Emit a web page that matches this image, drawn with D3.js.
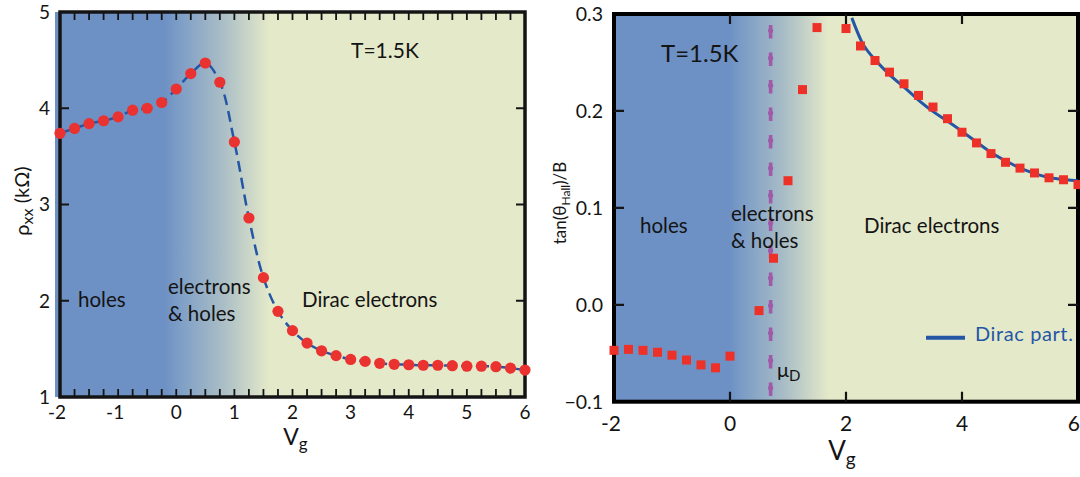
<!DOCTYPE html>
<html>
<head>
<meta charset="utf-8">
<script src="https://cdn.jsdelivr.net/npm/d3@7"></script>
<style>
  html, body { margin: 0; padding: 0; background: #fff; }
  svg { display: block; font-family: Lato, "Open Sans", sans-serif; }
</style>
</head>
<body>
<svg id="chart" width="1080" height="477"></svg>
<script>
// Gate voltage sweep for the longitudinal resistivity (kΩ)
const vgRho = [-2, -1.75, -1.5, -1.25, -1, -0.75, -0.5, -0.25, 0, 0.25, 0.5, 0.75, 1, 1.25, 1.5, 1.75,
  2, 2.25, 2.5, 2.75, 3, 3.25, 3.5, 3.75, 4, 4.25, 4.5, 4.75, 5, 5.25, 5.5, 5.75, 6];
const rhoXX = [3.74, 3.79, 3.84, 3.87, 3.91, 3.98, 4.00, 4.06, 4.20, 4.36, 4.47, 4.27, 3.65, 2.86, 2.24, 1.89,
  1.69, 1.56, 1.48, 1.43, 1.39, 1.37, 1.35, 1.34, 1.335, 1.33, 1.33, 1.325, 1.32, 1.32, 1.315, 1.30, 1.28];

// Hall angle per field
const vgHall = [-2, -1.75, -1.5, -1.25, -1, -0.75, -0.5, -0.25, 0, 0.5, 0.75, 1, 1.25, 1.5,
  2, 2.25, 2.5, 2.75, 3, 3.25, 3.5, 3.75, 4, 4.25, 4.5, 4.75, 5, 5.25, 5.5, 5.75, 6];
const tanHall = [-0.047, -0.046, -0.047, -0.049, -0.052, -0.057, -0.062, -0.065, -0.053, -0.006, 0.048, 0.128, 0.222, 0.286,
  0.285, 0.267, 0.252, 0.240, 0.228, 0.216, 0.204, 0.192, 0.178, 0.167, 0.156, 0.147, 0.141, 0.136, 0.131, 0.129, 0.124];

// Dirac-particle model curve
const vgDirac = [2.10, 2.27, 2.53, 2.76, 3.05, 3.28, 3.51, 3.76, 4.02, 4.25, 4.48, 4.77, 5.0, 5.23, 5.52, 5.80, 6.0];
const tanDirac = [0.296, 0.2715, 0.251, 0.237, 0.222, 0.2096, 0.199, 0.189, 0.178, 0.168, 0.158, 0.148, 0.141, 0.136, 0.131, 0.129, 0.128];

// Charge neutrality point
const muD = 0.70;

// Tick labels
const rhoTicks = [1, 2, 3, 4, 5];
const vgTicksLeft = [-2, -1, 0, 1, 2, 3, 4, 5, 6];
const vgMinorLeft = [-2, -1.75, -1.5, -1.25, -1, -0.75, -0.5, -0.25, 0, 0.25, 0.5, 0.75, 1, 1.25, 1.5, 1.75,
  2, 2.25, 2.5, 2.75, 3, 3.25, 3.5, 3.75, 4, 4.25, 4.5, 4.75, 5, 5.25, 5.5, 5.75, 6];
const hallTicks = [-0.1, 0.0, 0.1, 0.2, 0.3];
const vgTicksRight = [-2, 0, 2, 4, 6];

const BLUE_BG = "#6d91c4", YEL_BG = "#e4e9c9";
const RED = "#ea3230", LINE_BLUE = "#2456a6", PURPLE = "#a05aa8", INK = "#141414";

const svg = d3.select("#chart");
const defs = svg.append("defs");

function bgGradient(id, x0, x1) {
  const g = defs.append("linearGradient").attr("id", id)
    .attr("gradientUnits", "userSpaceOnUse")
    .attr("x1", x0).attr("x2", x1).attr("y1", 0).attr("y2", 0);
  g.append("stop").attr("offset", 0).attr("stop-color", BLUE_BG);
  g.append("stop").attr("offset", 0.12).attr("stop-color", "#7b9cc6");
  g.append("stop").attr("offset", 0.55).attr("stop-color", "#a9bdc6");
  g.append("stop").attr("offset", 1).attr("stop-color", YEL_BG);
}

// inward tick marks placed with a scale, drawn as one path per side
function inwardTicks(g, values, scale, orient, pos, len, width) {
  const horiz = orient === "top" || orient === "bottom";
  const sgn = (orient === "bottom" || orient === "right") ? -1 : 1;
  const d = values.map(v => {
    const p = scale(v);
    return horiz ? `M${p},${pos}V${pos + sgn * len}` : `M${pos},${p}H${pos + sgn * len}`;
  }).join("");
  g.append("path").attr("d", d).attr("fill", "none")
    .attr("stroke", INK).attr("stroke-width", width);
}

/* ---------- Left panel: rho_xx ---------- */
const xL = d3.scaleLinear().domain([-2, 6]).range([60, 525]);
const yL = d3.scaleLinear().domain([1, 5]).range([397, 12]);
bgGradient("gradL", xL(-0.2), xL(1.6));

const left = svg.append("g");
left.append("rect").attr("x", 55).attr("y", yL(5)).attr("width", xL(6) - 55).attr("height", yL(1) - yL(5))
  .attr("fill", "url(#gradL)");

left.append("rect").attr("x", xL(-2)).attr("y", yL(5)).attr("width", xL(6) - xL(-2)).attr("height", yL(1) - yL(5))
  .attr("fill", "none").attr("stroke", INK).attr("stroke-width", 3.5);
// minor ticks along top and bottom, major ticks on the sides
inwardTicks(left, vgMinorLeft, xL, "bottom", yL(1), 8, 1.8);
inwardTicks(left, vgMinorLeft, xL, "top", yL(5), 8, 1.8);
inwardTicks(left, rhoTicks, yL, "left", xL(-2), 9, 2);
inwardTicks(left, rhoTicks, yL, "right", xL(6), 9, 2);

// tick labels
left.selectAll("text.ytl").data(rhoTicks).join("text").attr("class", "ytl")
  .attr("x", xL(-2) - 10).attr("y", d => yL(d)).attr("dy", "0.36em")
  .attr("text-anchor", "end").attr("font-size", 19).attr("fill", INK).text(d => d);
left.selectAll("text.xtl").data(vgTicksLeft).join("text").attr("class", "xtl")
  .attr("x", d => xL(d) - (d < 0 ? 3 : 0)).attr("y", 419)
  .attr("text-anchor", "middle").attr("font-size", 19).attr("fill", INK).text(d => d);

// curve and points
const lineL = d3.line().x((d, i) => xL(vgRho[i])).y(d => yL(d)).curve(d3.curveCatmullRom);
left.append("path").attr("d", lineL(rhoXX)).attr("fill", "none")
  .attr("stroke", LINE_BLUE).attr("stroke-width", 2.5).attr("stroke-dasharray", "11,6");
left.selectAll("circle").data(rhoXX).join("circle")
  .attr("cx", (d, i) => xL(vgRho[i])).attr("cy", d => yL(d)).attr("r", 5.6).attr("fill", RED);

// region labels
const regL = left.append("g").attr("font-size", 20.5).attr("fill", INK);
regL.append("text").attr("x", 78).attr("y", 307).text("holes");
regL.append("text").attr("x", 168).attr("y", 294).text("electrons");
regL.append("text").attr("x", 168).attr("y", 321).text("& holes");
regL.append("text").attr("x", 302).attr("y", 307).text("Dirac electrons");
regL.append("text").attr("x", 351).attr("y", 58).attr("font-size", 21).text("T=1.5K");

// axis titles
const vgL = left.append("text").attr("x", (xL(-2) + xL(6)) / 2 + 3).attr("y", 445)
  .attr("text-anchor", "middle").attr("font-size", 23).attr("fill", INK);
vgL.append("tspan").text("V");
vgL.append("tspan").attr("font-size", 17).attr("dy", 5).text("g");

const rhoLab = left.append("text").attr("transform", "translate(29,201) rotate(-90)")
  .attr("text-anchor", "middle").attr("font-size", 20).attr("fill", INK);
rhoLab.append("tspan").text("ρ");
rhoLab.append("tspan").attr("font-size", 16).attr("dy", 4).text("xx");
rhoLab.append("tspan").attr("dy", -4).text(" (kΩ)");

/* ---------- Right panel: Hall angle ---------- */
const xR = d3.scaleLinear().domain([-2, 6]).range([614, 1078]);
const yR = d3.scaleLinear().domain([-0.1, 0.3]).range([401.7, 14]);
bgGradient("gradR", xR(0), xR(1.7));

const right = svg.append("g");
right.append("rect").attr("x", xR(-2)).attr("y", yR(0.3)).attr("width", xR(6) - xR(-2)).attr("height", yR(-0.1) - yR(0.3))
  .attr("fill", "url(#gradR)");

// mu_D marker: dashes plus dots
const muX = xR(muD);
right.append("line").attr("x1", muX).attr("x2", muX).attr("y1", yR(0.3)).attr("y2", yR(-0.1))
  .attr("stroke", PURPLE).attr("stroke-width", 3.6).attr("stroke-dasharray", "13.5,14").attr("stroke-dashoffset", -11);
right.append("line").attr("x1", muX).attr("x2", muX).attr("y1", yR(0.3)).attr("y2", yR(-0.1))
  .attr("stroke", PURPLE).attr("stroke-width", 5.2).attr("stroke-linecap", "round")
  .attr("stroke-dasharray", "0,27.5").attr("stroke-dashoffset", -16.5);

right.append("rect").attr("x", xR(-2)).attr("y", yR(0.3)).attr("width", xR(6) - xR(-2)).attr("height", yR(-0.1) - yR(0.3))
  .attr("fill", "none").attr("stroke", "#000").attr("stroke-width", 4);

const innerX = [0, 2, 4], innerY = [0.0, 0.1, 0.2];
inwardTicks(right, innerX, xR, "bottom", yR(-0.1), 10, 2.2);
inwardTicks(right, innerX, xR, "top", yR(0.3), 10, 2.2);
inwardTicks(right, innerY, yR, "left", xR(-2), 10, 2.2);
inwardTicks(right, innerY, yR, "right", xR(6), 10, 2.2);

right.selectAll("text.ytl").data(hallTicks).join("text").attr("class", "ytl")
  .attr("x", xR(-2) - 11).attr("y", d => yR(d)).attr("dy", "0.36em")
  .attr("text-anchor", "end").attr("font-size", 19.5).attr("fill", INK).text(d => d3.format(".1f")(d));
right.selectAll("text.xtl").data(vgTicksRight).join("text").attr("class", "xtl")
  .attr("x", d => d === 6 ? 1080 : xR(d) - (d < 0 ? 3 : 0)).attr("y", 431)
  .attr("text-anchor", d => d === 6 ? "end" : "middle").attr("font-size", 21).attr("fill", INK).text(d => d);

// model curve
const lineR = d3.line().x((d, i) => xR(vgDirac[i])).y(d => yR(d)).curve(d3.curveMonotoneX);
right.append("path").attr("d", lineR(tanDirac)).attr("fill", "none")
  .attr("stroke", LINE_BLUE).attr("stroke-width", 3);

// measured points
const sq = 9;
right.selectAll("rect.pt").data(tanHall).join("rect").attr("class", "pt")
  .attr("x", (d, i) => xR(vgHall[i]) - sq / 2).attr("y", d => yR(d) - sq / 2)
  .attr("width", sq).attr("height", sq).attr("fill", "#ee3128");

// annotations
const regR = right.append("g").attr("font-size", 20.5).attr("fill", INK);
regR.append("text").attr("x", 640).attr("y", 233).text("holes");
regR.append("text").attr("x", 731).attr("y", 221).text("electrons");
regR.append("text").attr("x", 731).attr("y", 248).text("& holes");
regR.append("text").attr("x", 864).attr("y", 233).text("Dirac electrons");
regR.append("text").attr("x", 661).attr("y", 62).attr("font-size", 24).text("T=1.5K");
const mu = regR.append("text").attr("x", 777).attr("y", 377).attr("font-size", 20);
mu.append("tspan").text("μ");
mu.append("tspan").attr("font-size", 15).attr("dy", 4).text("D");

// legend
right.append("line").attr("x1", 926).attr("x2", 965).attr("y1", 337.7).attr("y2", 337.7)
  .attr("stroke", LINE_BLUE).attr("stroke-width", 4);
right.append("text").attr("x", 975).attr("y", 341).attr("font-size", 20).attr("letter-spacing", 0.6)
  .attr("fill", LINE_BLUE).text("Dirac part.");

const vgR = right.append("text").attr("x", (xR(-2) + xR(6)) / 2 - 4).attr("y", 460)
  .attr("text-anchor", "middle").attr("font-size", 26).attr("fill", INK);
vgR.append("tspan").text("V");
vgR.append("tspan").attr("font-size", 19).attr("dy", 6).text("g");

const hallLab = right.append("text").attr("transform", "translate(566,203) rotate(-90)")
  .attr("text-anchor", "middle").attr("font-size", 17).attr("fill", INK);
hallLab.append("tspan").text("tan(θ");
hallLab.append("tspan").attr("font-size", 12).attr("dy", 4).text("Hall");
hallLab.append("tspan").attr("dy", -4).text(")/B");
</script>
</body>
</html>
